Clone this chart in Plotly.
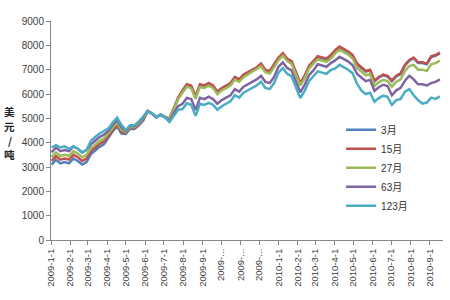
import pandas as pd
import plotly.graph_objects as go

# weekly observation dates (categories)
dates = pd.date_range("2009-01-02", periods=90, freq="7D")

series_names = ["3月", "15月", "27月", "63月", "123月"]
colors = ["#4F81BD", "#C0504D", "#9BBB59", "#8064A2", "#4BACC6"]

m3 = [3100, 3300, 3150, 3200, 3150, 3350, 3250, 3100, 3200,
      3530, 3680, 3830, 3930,
      4220, 4470, 4670, 4370,
      4360, 4560, 4560, 4710, 4910,
      5290, 5190, 5040, 5140, 5040,
      4990, 5380, 5830,
      6120, 6370, 6320, 5870, 6370, 6320, 6420, 6320, 6070, 6220,
      6320, 6420, 6670, 6570, 6770, 6870, 6970, 7070, 7220, 6970,
      6920, 7170, 7470, 7650, 7420, 7320, 6870, 6420, 6720, 7120,
      7320, 7520, 7470, 7420, 7570, 7770, 7920, 7820, 7720, 7570,
      7220, 7070, 6920, 6970, 6520, 6670, 6770, 6720, 6520, 6720,
      6820, 7170, 7370, 7470, 7270, 7270, 7220, 7520, 7570, 7670]

m15 = [3250, 3450, 3300, 3350, 3300, 3500, 3400, 3250, 3350,
       3650, 3800, 3950, 4050,
       4300, 4550, 4750, 4450,
       4400, 4600, 4600, 4750, 4950,
       5300, 5200, 5050, 5150, 5050,
       5000, 5400, 5850,
       6150, 6400, 6350, 5900, 6400, 6350, 6450, 6350, 6100, 6250,
       6350, 6450, 6700, 6600, 6800, 6900, 7000, 7100, 7250, 7000,
       6950, 7200, 7500, 7680, 7450, 7350, 6900, 6450, 6750, 7150,
       7350, 7550, 7500, 7450, 7600, 7800, 7950, 7850, 7750, 7600,
       7250, 7100, 6950, 7000, 6550, 6700, 6800, 6750, 6550, 6750,
       6850, 7200, 7400, 7500, 7300, 7300, 7250, 7550, 7600, 7700]

m27 = [3400, 3600, 3450, 3500, 3450, 3650, 3550, 3400, 3500,
       3770, 3920, 4070, 4170,
       4380, 4630, 4830, 4530,
       4440, 4640, 4640, 4790, 4990,
       5310, 5210, 5060, 5160, 5060,
       4980, 5360, 5790,
       6050, 6300, 6240, 5800, 6290, 6250, 6340, 6250, 5990, 6150,
       6240, 6350, 6590, 6500, 6690, 6800, 6890, 7000, 7140, 6900,
       6840, 7100, 7390, 7580, 7350, 7240, 6800, 6350, 6640, 7040,
       7250, 7420, 7370, 7320, 7460, 7670, 7820, 7710, 7620, 7460,
       7070, 6920, 6770, 6820, 6330, 6480, 6580, 6530, 6300, 6500,
       6600, 6950, 7150, 7200, 7000, 7000, 6950, 7220, 7270, 7370]

m63 = [3600, 3800, 3650, 3700, 3650, 3850, 3750, 3600, 3700,
       3930, 4080, 4230, 4330,
       4480, 4730, 4930, 4630,
       4480, 4680, 4680, 4830, 5030,
       5300, 5200, 5050, 5150, 5050,
       4900, 5200, 5500,
       5600, 5840, 5790, 5340, 5840, 5790, 5890, 5790, 5600, 5750,
       5850, 5950, 6200, 6100, 6300, 6400, 6500, 6600, 6750, 6500,
       6450, 6700, 7120, 7300, 7070, 6970, 6520, 6070, 6370, 6770,
       6970, 7220, 7170, 7120, 7270, 7380, 7530, 7430, 7330, 7180,
       6830, 6680, 6530, 6580, 6130, 6280, 6380, 6330, 5950, 6150,
       6250, 6550, 6750, 6600, 6400, 6400, 6350, 6450, 6500, 6600]

m123 = [3800, 3900, 3800, 3850, 3750, 3850, 3750, 3600, 3700,
        4080, 4230, 4380, 4480,
        4580, 4830, 5030, 4730,
        4520, 4720, 4720, 4870, 5070,
        5290, 5210, 5040, 5160, 5040,
        4850, 5100, 5350,
        5380, 5620, 5560, 5100, 5600, 5550, 5640, 5560, 5350, 5500,
        5600, 5700, 5950, 5850, 6050, 6150, 6250, 6350, 6500, 6250,
        6200, 6450, 6880, 7060, 6830, 6730, 6280, 5830, 6130, 6530,
        6730, 6930, 6880, 6830, 6980, 7050, 7200, 7100, 7000, 6850,
        6420, 6150, 6000, 6050, 5680, 5830, 5930, 5880, 5550, 5750,
        5800, 6100, 6200, 5950, 5750, 5600, 5650, 5850, 5800, 5900]

values = [m3, m15, m27, m63, m123]

tick_dates = ["2009-01-01", "2009-02-01", "2009-03-01", "2009-04-01", "2009-05-01",
              "2009-06-01", "2009-07-01", "2009-08-01", "2009-09-01", "2009-10-01",
              "2009-11-01", "2009-12-01", "2010-01-01", "2010-02-01", "2010-03-01",
              "2010-04-01", "2010-05-01", "2010-06-01", "2010-07-01", "2010-08-01",
              "2010-09-01"]
tick_labels = ["2009-1-1", "2009-2-1", "2009-3-1", "2009-4-1", "2009-5-1",
               "2009-6-1", "2009-7-1", "2009-8-1", "2009-9-1", "2009-...",
               "2009-...", "2009-...", "2010-1-1", "2010-2-1", "2010-3-1",
               "2010-4-1", "2010-5-1", "2010-6-1", "2010-7-1", "2010-8-1",
               "2010-9-1"]

y_title_chars = ["美", "元", "/", "吨"]

FONT = "Liberation Sans, Noto Sans CJK SC, sans-serif"

fig = go.Figure()
for name, col, vals in zip(series_names, colors, values):
    fig.add_trace(go.Scatter(x=dates, y=vals, mode="lines", name=name,
                             line=dict(color=col, width=2.5)))

# stacked vertical axis title, one character per line
title_py = [111, 126, 140, 154]
annotations = []
for ch, py in zip(y_title_chars, title_py):
    annotations.append(dict(text="<b>%s</b>" % ch, xref="paper", yref="paper",
                            x=-0.105, y=(240 - py) / 219.0,
                            xanchor="center", yanchor="middle", showarrow=False,
                            borderpad=0,
                            font=dict(family="Noto Sans CJK SC", size=10.5,
                                      color="#202020")))

fig.update_layout(
    width=450, height=300,
    margin=dict(l=51, r=7, t=21, b=60),
    paper_bgcolor="white", plot_bgcolor="white",
    font=dict(family=FONT, size=10, color="#404040"),
    showlegend=True,
    legend=dict(x=0.74, y=0.57, xanchor="left", yanchor="top",
                bgcolor="rgba(0,0,0,0)", font=dict(size=10, color="#303030"),
                itemwidth=30),
    xaxis=dict(type="date", range=["2009-01-01", "2010-09-22"],
               tickmode="array", tickvals=tick_dates, ticktext=tick_labels,
               tickangle=-90, ticks="outside", ticklen=4, tickcolor="#868686",
               showline=True, linecolor="#868686", linewidth=1,
               showgrid=False, zeroline=False,
               tickfont=dict(size=9.5, color="#404040")),
    yaxis=dict(range=[0, 9000], tickmode="array",
               tickvals=[0, 1000, 2000, 3000, 4000, 5000, 6000, 7000, 8000, 9000],
               ticks="outside", ticklen=4, tickcolor="#868686",
               showline=True, linecolor="#868686", linewidth=1,
               showgrid=False, zeroline=False,
               tickfont=dict(size=10, color="#404040")),
    annotations=annotations,
)

fig.write_html("out.html")
